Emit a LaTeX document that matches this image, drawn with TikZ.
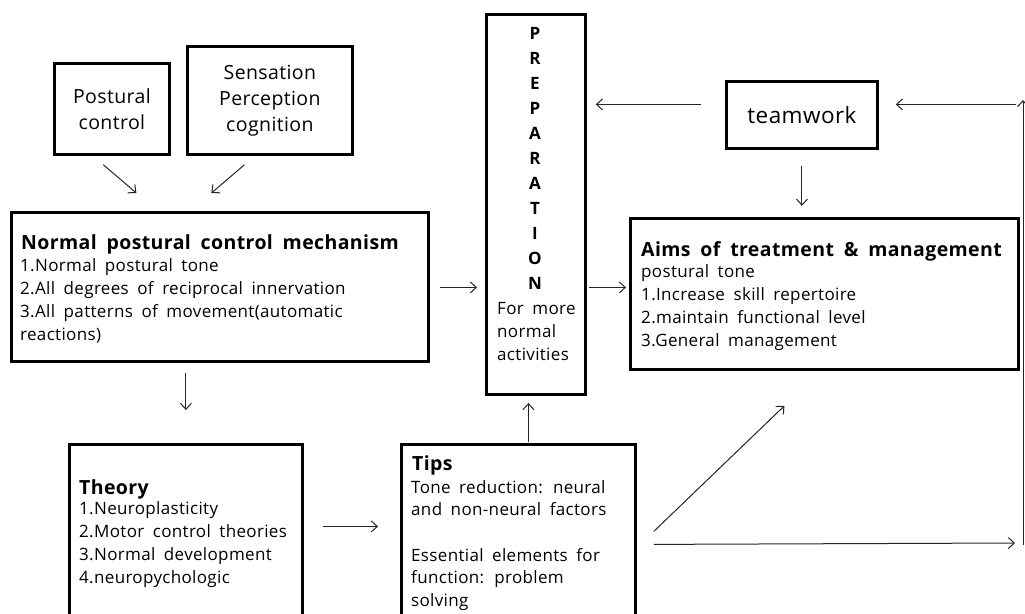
\documentclass[tikz,border=0pt]{standalone}
\usepackage{fontspec}
\setmainfont{Open Sans}[LetterSpace=2,WordSpace=1.8]
\usetikzlibrary{arrows.meta,calc}
\begin{document}
\begin{tikzpicture}[x=1pt,y=-1pt,
  box/.style={draw=black, line width=2.8pt, anchor=north west, inner sep=0pt, rectangle},
  arr/.style={draw=black!85, line width=1pt, -{Straight Barb[length=6pt,width=11pt]}},
  body/.style={anchor=base west, inner sep=0pt, align=left, font=\fontsize{17}{22.7}\selectfont},
  head/.style={anchor=base west, inner sep=0pt, font=\fontsize{19.5}{23}\selectfont\bfseries},
  big/.style={align=center, font=\fontsize{19.5}{26}\selectfont}
]
\clip (0,0) rectangle (1025,613);
\fill[white] (0,0) rectangle (1025,613);

% boxes
\node[box, big, minimum width=115pt, minimum height=91pt] (pc) at (53,62) {Postural\\control};
\node[box, big, minimum width=165pt, minimum height=108pt] (sp) at (186,45) {Sensation\\Perception\\cognition};
\node[box, minimum width=99pt, minimum height=380pt] (prep) at (485,13) {};
\node[box, minimum width=151pt, minimum height=67pt, font=\fontsize{22.5}{26}\selectfont] (tw) at (725,80) {teamwork};
\node[box, minimum width=417pt, minimum height=149pt] (normal) at (10,211) {};
\node[box, minimum width=388pt, minimum height=151pt] (aims) at (629,217) {};
\node[box, minimum width=233pt, minimum height=187pt] (theory) at (68,443) {};
\node[box, minimum width=234pt, minimum height=187pt] (tips) at (400,443) {};

% texts (anchor base = baseline of the last line)
\node[anchor=base, inner sep=0pt, align=center, font=\fontsize{17}{25}\selectfont\bfseries] (preptitle) at (535,289) {P\\R\\E\\P\\A\\R\\A\\T\\I\\O\\N};
\node[body, font=\fontsize{17}{23}\selectfont] (prepsub) at (497,360) {For more\\normal\\activities};

\node[head] (normalhead) at (21,249) {Normal postural control mechanism};
\node[body, font=\fontsize{17}{23}\selectfont] (normalbody) at (20,340) {1.Normal postural tone\\2.All degrees of reciprocal innervation\\3.All patterns of movement(automatic\\reactions)};

\node[head] (aimshead) at (641,256) {Aims of treatment \& management};
\node[body] (aimsbody) at (641,346) {postural tone\\1.Increase skill repertoire\\2.maintain functional level\\3.General management};

\node[head] (theoryhead) at (79,494) {Theory};
\node[body] (theorybody) at (79,583) {1.Neuroplasticity\\2.Motor control theories\\3.Normal development\\4.neuropychologic};

\node[head] (tipshead) at (412,470) {Tips};
\node[body] (tipsbody) at (411,606.5) {Tone reduction: neural\\and non-neural factors\\[22.7pt]Essential elements for\\function: problem\\solving};

% coordinates of the right-hand line
\coordinate (rt) at (1023,100);
\coordinate (rb) at (1023,545);

% connectors
\draw[arr] ($(pc.south)+(-8.5,9)$) -- ($(normal.north)+(-83.5,-18)$);
\draw[arr] ($(sp.south)+(-25.5,9)$) -- ($(normal.north)+(-8.5,-18)$);
\draw[arr] ($(normal.east)+(10,0.5)$) -- ($(prep.west|-normal.east)+(-8,0.5)$);
\draw[arr] ($(prep.east|-normal.east)+(2,0.5)$) -- ($(aims.west|-normal.east)+(-3,0.5)$);
\draw[arr] ($(tw.west)+(-24,-10.5)$) -- ($(prep.east|-tw.west)+(9,-10.5)$);
\draw[arr] ($(tw.east)+(137,-10.5)$) -- ($(tw.east)+(17,-10.5)$);
\draw[arr] ($(tw.south)+(0,16)$) -- ($(tw.south)+(0,56)$);
\draw[arr] ($(theory.north|-normal.south)+(0,10)$) -- ($(theory.north)+(0,-33)$);
\draw[arr] ($(theory.east)+(19,-11.5)$) -- ($(tips.west)+(-22,-11.5)$);
\draw[arr] ($(tips.north)+(10,-1)$) -- ($(tips.north)+(10,-40)$);
\draw[arr] ($(tips.east)+(17,-6.5)$) -- ($(aims.south)+(-40,35)$);
\draw[arr] ($(tips.east)+(17,6.5)$) -- ($(rb)+(-8,-2)$);
\draw[arr] (rb) -- (rt);
\end{tikzpicture}
\end{document}
